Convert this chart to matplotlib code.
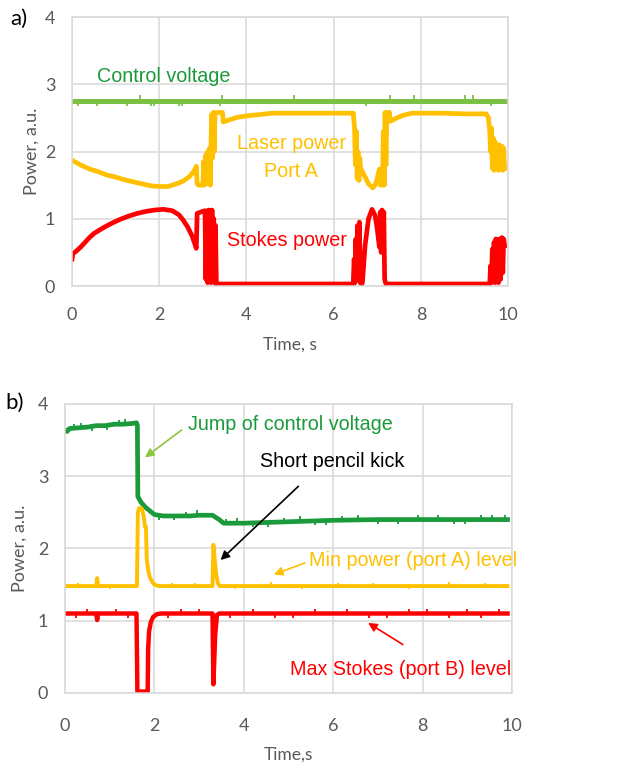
import matplotlib.pyplot as plt
from matplotlib import font_manager

# ---- panel a: slow scan ----
ctrl_a_t = [0.0, 9.92]
ctrl_a_v = [2.75, 2.75]
# little glitches on the control voltage trace (time, offset)
ctrl_a_spike_t = [0.14, 0.58, 1.27, 1.57, 1.82, 1.87, 2.45, 2.52, 3.39, 3.45,
                  5.09, 6.74, 7.29, 7.84, 9.02, 9.20, 9.62]
ctrl_a_spike_dv = [-0.08, -0.08, -0.08, 0.09, -0.08, -0.08, -0.08, -0.08, -0.08, 0.09,
                   0.09, -0.08, 0.09, 0.09, 0.09, 0.09, -0.08]

laser_a_t = [0.0, 0.2, 0.4, 0.6, 0.8, 1.0, 1.2, 1.4, 1.6, 1.8, 2.0, 2.2, 2.4, 2.55,
             2.7, 2.8, 2.85, 2.87, 2.9, 3.0, 3.02, 3.04, 3.07, 3.09, 3.11, 3.13,
             3.15, 3.17, 3.19, 3.2, 3.22, 3.24, 3.26, 3.28, 3.30, 3.45, 3.47, 3.6,
             3.8, 4.0, 4.3, 4.6, 5.0, 5.5, 6.0, 6.45, 6.48, 6.5, 6.52, 6.54, 6.56,
             6.58, 6.6, 6.62, 6.7, 6.8, 6.9, 6.95, 7.0, 7.05, 7.07, 7.12, 7.14,
             7.16, 7.18, 7.2, 7.22, 7.28, 7.3, 7.45, 7.6, 7.8, 8.5, 9.0, 9.5,
             9.55, 9.58, 9.6, 9.62, 9.64, 9.66, 9.68, 9.7, 9.72, 9.75, 9.78, 9.8,
             9.83, 9.86, 9.88, 9.9, 9.92]
laser_a_p = [1.87, 1.80, 1.74, 1.70, 1.65, 1.62, 1.58, 1.55, 1.52, 1.49, 1.48, 1.48,
             1.52, 1.56, 1.63, 1.71, 1.78, 1.52, 1.50, 1.50, 1.85, 1.50, 1.95, 1.52,
             2.00, 1.55, 2.05, 1.50, 2.15, 2.55, 1.90, 2.58, 2.00, 2.58, 2.58, 2.58,
             2.44, 2.47, 2.51, 2.53, 2.55, 2.57, 2.57, 2.57, 2.57, 2.57, 2.35, 1.80,
             2.30, 1.60, 2.00, 1.57, 1.90, 1.75, 1.65, 1.52, 1.46, 1.50, 1.60, 1.74,
             1.50, 1.50, 2.30, 1.50, 2.58, 1.80, 2.58, 2.58, 2.45, 2.50, 2.54, 2.57,
             2.57, 2.56, 2.56, 2.50, 2.30, 2.00, 2.35, 1.75, 2.20, 1.72, 2.15, 1.75,
             2.10, 1.72, 2.10, 1.73, 2.08, 1.72, 2.05, 1.75]

stokes_a_t = [0.0, 0.02, 0.1, 0.2, 0.3, 0.4, 0.5, 0.7, 0.9, 1.1, 1.3, 1.5, 1.7, 1.9,
              2.1, 2.3, 2.45, 2.55, 2.65, 2.75, 2.82, 2.85, 2.87, 2.95, 3.05, 3.07,
              3.09, 3.11, 3.13, 3.15, 3.17, 3.19, 3.21, 3.23, 3.25, 3.27, 3.29, 3.31,
              3.33, 4.0, 5.0, 6.0, 6.45, 6.47, 6.49, 6.51, 6.53, 6.55, 6.57, 6.59,
              6.61, 6.64, 6.66, 6.72, 6.8, 6.88, 6.95, 7.0, 7.05, 7.07, 7.09, 7.11,
              7.13, 7.15, 7.17, 7.2, 8.0, 9.0, 9.58, 9.6, 9.62, 9.64, 9.66, 9.68,
              9.7, 9.72, 9.74, 9.76, 9.78, 9.8, 9.83, 9.86, 9.88, 9.9, 9.92]
stokes_a_p = [0.40, 0.48, 0.52, 0.58, 0.65, 0.72, 0.78, 0.86, 0.93, 0.99, 1.04, 1.08,
              1.11, 1.13, 1.14, 1.12, 1.06, 0.98, 0.88, 0.75, 0.62, 0.56, 1.08, 1.10,
              1.12, 0.10, 1.10, 0.05, 1.13, 0.20, 1.12, 0.05, 1.13, 0.30, 1.00, 0.05,
              0.90, 0.03, 0.03, 0.03, 0.03, 0.03, 0.03, 0.40, 0.05, 0.70, 0.10, 0.90,
              0.15, 0.95, 0.05, 0.03, 0.05, 0.60, 1.00, 1.14, 1.05, 0.85, 0.58, 1.10,
              0.50, 1.13, 0.60, 1.10, 0.10, 0.03, 0.03, 0.03, 0.03, 0.30, 0.05, 0.55,
              0.10, 0.65, 0.05, 0.70, 0.15, 0.68, 0.05, 0.70, 0.10, 0.72, 0.20, 0.70,
              0.60]
stokes_a_spike_t = [3.7, 4.0, 4.3, 4.55, 4.8, 5.1, 5.45, 5.8, 6.1, 6.3,
                    7.5, 7.9, 8.2, 8.5, 8.9, 9.2, 9.4]
stokes_a_spike_dv = [-0.05] * 17

# ---- panel b: pencil kick ----
ctrl_b_t = [0.0, 0.05, 0.1, 0.3, 0.5, 0.7, 0.9, 1.1, 1.3, 1.5, 1.6, 1.62, 1.63, 1.7,
            1.8, 1.9, 2.0, 2.2, 2.5, 2.8, 3.0, 3.3, 3.45, 3.55, 4.0, 4.5, 5.0, 5.5,
            6.0, 7.0, 8.0, 9.0, 9.9]
ctrl_b_v = [3.64, 3.62, 3.66, 3.67, 3.68, 3.70, 3.70, 3.72, 3.72, 3.73, 3.74, 3.70,
            2.72, 2.64, 2.57, 2.52, 2.47, 2.45, 2.45, 2.45, 2.46, 2.46, 2.40, 2.35,
            2.35, 2.36, 2.37, 2.38, 2.39, 2.40, 2.40, 2.40, 2.40]
ctrl_b_spike_t = [0.2, 0.35, 0.6, 0.95, 1.2, 1.35, 2.1, 2.45, 2.7, 2.95, 3.6, 3.85,
                  4.2, 4.55, 4.9, 5.25, 5.6, 5.85, 6.2, 6.55, 7.0, 7.45, 7.9, 8.35,
                  8.7, 8.95, 9.3, 9.55, 9.85]
ctrl_b_spike_dv = [0.06, 0.07, -0.06, -0.06, 0.06, 0.07, -0.07, -0.06, 0.06, 0.07,
                   0.06, 0.07, -0.06, -0.06, 0.06, 0.07, -0.06, -0.06, 0.06, 0.07,
                   -0.06, -0.06, 0.06, 0.07, -0.06, -0.06, 0.07, 0.06, 0.06]

laser_b_t = [0.0, 0.7, 0.72, 0.74, 1.61, 1.63, 1.66, 1.72, 1.76, 1.79, 1.81, 1.83,
             1.86, 1.9, 1.95, 2.0, 2.1, 3.30, 3.32, 3.35, 3.38, 3.42, 3.46, 9.9]
laser_b_p = [1.48, 1.48, 1.59, 1.48, 1.48, 2.50, 2.56, 2.55, 2.45, 2.30, 2.30, 1.85,
             1.70, 1.60, 1.54, 1.50, 1.48, 1.48, 2.05, 1.85, 1.65, 1.52, 1.48, 1.48]
laser_b_spike_t = [0.3, 1.0, 2.4, 2.9, 3.8, 4.6, 5.3, 6.1, 6.9, 7.7, 8.6, 9.4]
laser_b_spike_dv = [0.04, -0.04, 0.04, 0.04, -0.04, 0.05, -0.04, 0.04, 0.04, -0.04,
                    0.05, 0.04]

stokes_b_t = [0.0, 0.7, 0.72, 0.74, 1.6, 1.62, 1.85, 1.86, 1.88, 1.92, 1.97, 2.05,
              2.15, 3.30, 3.32, 3.36, 3.40, 3.45, 9.9]
stokes_b_p = [1.10, 1.10, 1.01, 1.10, 1.10, 0.02, 0.02, 0.60, 0.85, 0.98, 1.05, 1.09,
              1.10, 1.10, 0.12, 0.80, 1.08, 1.10, 1.10]
stokes_b_spike_t = [0.25, 0.5, 1.15, 1.4, 2.3, 2.6, 3.0, 3.7, 4.2, 4.7, 5.1, 5.6,
                    6.3, 6.8, 7.2, 7.7, 8.1, 8.6, 9.0, 9.3, 9.7]
stokes_b_spike_dv = [-0.06, 0.06, 0.06, -0.06, -0.06, 0.06, 0.06, -0.06, 0.06,
                     -0.06, -0.06, 0.06, 0.06, -0.06, -0.06, 0.06, 0.06, -0.06,
                     0.06, -0.06, 0.06]


def trace_at(t, v, x):
    for k in range(len(t) - 1):
        if t[k] <= x <= t[k + 1]:
            f = (x - t[k]) / (t[k + 1] - t[k]) if t[k + 1] > t[k] else 0
            return v[k] + f * (v[k + 1] - v[k])
    return v[-1]


def draw_spikes(ax, t, v, spike_t, spike_dv, color, lw=1.3):
    base = [trace_at(t, v, s) for s in spike_t]
    tops = [b + d for b, d in zip(base, spike_dv)]
    ax.vlines(spike_t, base, tops, color=color, lw=lw)


GRID = '#d9d9d9'
TICK = '#595959'
YELLOW = '#ffc000'
RED = '#ff0000'
GREEN_L = '#7cc142'
GREEN_D = '#1a9a3a'

names = {f.name for f in font_manager.fontManager.ttflist}
if 'Liberation Sans Narrow' in names:
    ANN = dict(family=['Liberation Sans Narrow', 'Liberation Sans'], fontsize=16.5)
else:
    ANN = dict(family=['Liberation Sans'], fontsize=14.2)

plt.rcParams['font.family'] = ['Lato', 'DejaVu Sans']

fig = plt.figure(figsize=(6.29, 7.67), dpi=100)
ax1 = fig.add_axes([0.1145, 0.6271, 0.6932, 0.3507])
ax2 = fig.add_axes([0.1033, 0.0965, 0.7107, 0.3768])

for ax in (ax1, ax2):
    ax.set_xlim(0, 10)
    ax.set_ylim(0, 4)
    ax.set_xticks(range(0, 11, 2))
    ax.set_yticks(range(0, 5))
    ax.grid(True, color=GRID, lw=1.1)
    ax.set_axisbelow(True)
    for s in ax.spines.values():
        s.set_color(GRID)
        s.set_linewidth(1.1)
    ax.tick_params(length=0, labelsize=13, labelcolor=TICK)
    ax.tick_params(axis='y', pad=12)
    ax.set_ylabel('Power, a.u.', fontsize=13, color=TICK)

ax1.tick_params(axis='x', pad=15)
ax2.tick_params(axis='x', pad=18)

# panel a
ax1.plot(ctrl_a_t, ctrl_a_v, color=GREEN_L, lw=3.6)
draw_spikes(ax1, ctrl_a_t, ctrl_a_v, ctrl_a_spike_t, ctrl_a_spike_dv, GREEN_L)
ax1.plot(laser_a_t, laser_a_p, color=YELLOW, lw=3.4)
ax1.plot(stokes_a_t, stokes_a_p, color=RED, lw=3.4)
draw_spikes(ax1, stokes_a_t, stokes_a_p, stokes_a_spike_t, stokes_a_spike_dv, RED)

ax1.text(0.57, 3.12, 'Control voltage', color=GREEN_D, va='center', ha='left', **ANN)
ax1.text(5.03, 1.91, 'Laser power\nPort A', color=YELLOW, va='center', ha='center',
         linespacing=1.6, **ANN)
ax1.text(3.56, 0.67, 'Stokes power', color=RED, va='center', ha='left', **ANN)

ax1.set_xlabel('Time, s', fontsize=12.5, color=TICK, va='top')
ax1.xaxis.set_label_coords(0.5, -0.19)
ax1.yaxis.set_label_coords(-0.075, 0.5)

# panel b
ax2.plot(ctrl_b_t, ctrl_b_v, color=GREEN_D, lw=3.4)
draw_spikes(ax2, ctrl_b_t, ctrl_b_v, ctrl_b_spike_t, ctrl_b_spike_dv, GREEN_D)
ax2.plot(laser_b_t, laser_b_p, color=YELLOW, lw=2.8)
draw_spikes(ax2, laser_b_t, laser_b_p, laser_b_spike_t, laser_b_spike_dv, YELLOW)
ax2.plot(stokes_b_t, stokes_b_p, color=RED, lw=3.2)
draw_spikes(ax2, stokes_b_t, stokes_b_p, stokes_b_spike_t, stokes_b_spike_dv, RED)

ax2.text(2.76, 3.71, 'Jump of control voltage', color=GREEN_D, va='center',
         ha='left', **ANN)
ax2.text(4.36, 3.20, 'Short pencil kick', color='black', va='center', ha='left', **ANN)
ax2.text(5.46, 1.84, 'Min power (port A) level', color=YELLOW, va='center',
         ha='left', **ANN)
ax2.text(5.03, 0.32, 'Max Stokes (port B) level', color=RED, va='center',
         ha='left', **ANN)

arrows = [((2.61, 3.64), (1.79, 3.26), '#8cc63f'),
          ((5.22, 2.86), (3.48, 1.84), 'black'),
          ((5.37, 1.80), (4.67, 1.64), YELLOW),
          ((7.56, 0.67), (6.78, 0.97), RED)]
for start, end, c in arrows:
    ax2.annotate('', xy=end, xytext=start,
                 arrowprops=dict(arrowstyle='-|>', color=c, lw=1.2,
                                 mutation_scale=13, shrinkA=0, shrinkB=0))

ax2.set_xlabel('Time,s', fontsize=12.5, color=TICK, va='top')
ax2.xaxis.set_label_coords(0.5, -0.187)
ax2.yaxis.set_label_coords(-0.083, 0.5)

fig.text(0.016, 1 - 19 / 767, 'a)', fontsize=16, va='center', ha='left')
fig.text(0.008, 1 - 403 / 767, 'b)', fontsize=16, va='center', ha='left')

fig.savefig('out.png', dpi=100)
